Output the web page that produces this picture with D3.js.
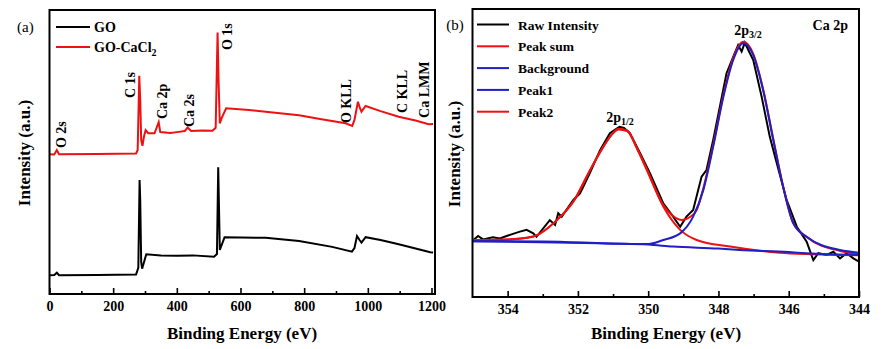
<!DOCTYPE html>
<html>
<head>
<meta charset="utf-8">
<script src="https://cdn.jsdelivr.net/npm/d3@7"></script>
<style>
  body { margin: 0; background: #fff; }
  text { font-family: "Liberation Serif", "Times New Roman", serif; }
</style>
</head>
<body>
<script>
// survey spectra, [binding energy (eV), intensity (a.u.)]
var surveyGO = [
  [0,6.6],[15,6.7],[23,7.5],[30,6.6],[150,6.7],[272,6.9],[279,9.2],[283,40.1],[285,33.1],
  [288,11.3],[291,8.9],[297,11.3],[304,14.0],[350,13.6],[400,13.5],[450,13.6],[517,13.1],
  [526,14.1],[530,44.6],[532,33.1],[535,15.5],[541,17.3],[550,20.0],[600,19.9],[679,19.8],
  [784,18.7],[888,16.6],[950,14.9],[958,16.2],[966,20.4],[974,19.0],[980,18.1],[993,20.0],
  [1040,19.0],[1097,17.5],[1150,16.0],[1196,14.7],[1205,14.6]
];
var surveyCaCl2 = [
  [0,49.2],[15,49.1],[23,50.7],[30,49.2],[150,49.3],[272,49.5],[277,50.7],[282,76.8],[285,68.3],
  [288,54.2],[292,52.2],[297,55.6],[302,57.7],[310,56.6],[330,56.6],[343,60.5],[348,57.0],
  [380,56.7],[400,57.0],[425,57.4],[434,58.6],[445,57.4],[480,57.6],[512,57.5],[522,58.5],
  [528,92.1],[531,75.4],[535,60.1],[541,62.0],[555,65.4],[627,64.8],[679,64.2],[784,62.9],
  [850,61.6],[930,60.1],[951,59.2],[958,61.3],[969,67.7],[975,65.5],[980,64.2],[993,66.2],
  [1040,64.4],[1097,62.4],[1150,61.1],[1191,59.8],[1205,59.9]
];
var surveyTicks = [0,200,400,600,800,1000,1200];
var surveyMinor = [100,300,500,700,900,1100];
// peak labels: name, energy, intensity where the label starts
var surveyLabels = [
  ["O 2s",52,51.4],["C 1s",270,69.0],["Ca 2p",369,61.6],["Ca 2s",455,58.8],
  ["O 1s",572,85.9],["O KLL",947,60.2],["C KLL",1123,63.7],["Ca LMM",1191,62.0]
];

// Ca 2p high resolution, [binding energy (eV), intensity (a.u.)]
var ca2pRaw = [
  [355.00,19.5],[354.84,21.2],[354.70,20.0],[354.42,20.7],[354.22,20.3],[354.03,21.2],[353.65,22.7],
  [353.46,23.3],[353.27,22.1],[353.18,20.9],[352.80,26.7],[352.65,25.0],[352.56,29.1],[352.46,27.9],
  [352.13,33.7],[351.94,36.0],[351.66,43.0],[351.37,51.0],[351.09,56.9],[350.82,59.1],[350.69,58.7],
  [350.52,56.9],[350.23,49.9],[349.95,43.0],[349.57,32.5],[349.29,27.9],[349.09,24.4],[348.91,27.9],
  [348.72,30.2],[348.48,41.8],[348.34,44.1],[348.15,54.5],[347.96,66.1],[347.77,77.7],[347.58,83.4],
  [347.44,87.5],[347.34,85.2],[347.25,88.3],[347.01,82.3],[346.77,69.5],[346.54,55.7],[346.34,46.4],
  [346.06,33.7],[345.77,24.4],[345.49,19.2],[345.30,12.8],[345.16,15.2],[344.92,14.6],[344.73,15.7],
  [344.54,13.4],[344.35,15.2],[344.16,13.4],[344.00,12.3]
];
var ca2pSum = [
  [355.0,19.8],[354.0,20.0],[353.3,20.9],[352.6,26.7],[352.1,33.7],[351.7,43.0],[351.3,51.7],
  [351.0,56.9],[350.85,58.4],[350.6,57.8],[350.3,51.2],[350.04,44.5],[349.57,31.9],[349.29,28.1],
  [349.04,26.7],[348.81,27.8],[348.62,30.2],[348.43,37.8],[348.15,52.8],[347.86,70.1],[347.58,83.0],
  [347.29,88.6],[347.01,84.4],[346.73,72.2],[346.44,54.9],[346.16,38.5],[345.87,25.7],[345.49,20.8],
  [344.54,16.0],[344.0,14.9]
];
var ca2pBackground = [
  [355.0,19.4],[353.0,19.3],[351.2,18.6],[350.0,18.2],[349.3,17.5],[348.0,16.8],[347.4,16.3],
  [346.0,15.6],[345.5,15.2],[344.0,14.6]
];
var ca2pPeak1 = [
  [355.0,19.4],[351.0,18.6],[350.0,18.4],[349.57,19.8],[349.09,22.1],[348.72,27.9],[348.43,37.2],
  [348.15,52.2],[347.86,69.5],[347.58,82.3],[347.29,88.1],[347.01,84.0],[346.73,71.9],[346.44,54.5],
  [346.16,38.3],[345.87,25.6],[345.49,20.9],[344.54,16.3],[344.0,15.4]
];
var ca2pPeak2 = [
  [355.0,19.8],[354.0,20.0],[353.3,20.9],[352.6,26.7],[352.1,33.7],[351.7,43.0],[351.3,51.7],
  [351.0,56.9],[350.85,58.2],[350.6,57.6],[350.3,51.0],[350.04,44.1],[349.57,31.4],[349.09,23.3],
  [348.62,19.8],[347.67,17.5],[346.25,15.4],[345.5,14.9],[344.0,14.5]
];
var ca2pTicks = [354,352,350,348,346,344];
var ca2pMinor = [353,351,349,347,345];

var red="#ee1111", blue="#1f1fc4";

var svg=d3.select("body").append("svg")
    .attr("width",891)
    .attr("height",349);

// ---------- panel (a) ----------
var ax=d3.scaleLinear().domain([0,1211]).range([49.5,435]);
var ay=d3.scaleLinear().domain([0,100]).range([294,10]);

var gA=svg.append("g");

var lineA=d3.line().x(d=>ax(d[0])).y(d=>ay(d[1]));

gA.append("path").datum(surveyGO)
    .attr("d",lineA).attr("fill","none").attr("stroke","#000").attr("stroke-width",2);
gA.append("path").datum(surveyCaCl2)
    .attr("d",lineA).attr("fill","none").attr("stroke",red).attr("stroke-width",2);

drawAxis(gA, ax, 294, surveyTicks, surveyMinor);

gA.append("rect")
    .attr("x",ax.range()[0]).attr("y",ay.range()[1])
    .attr("width",ax.range()[1]-ax.range()[0])
    .attr("height",ay.range()[0]-ay.range()[1])
    .attr("fill","none").attr("stroke","#000").attr("stroke-width",2);

gA.selectAll(".plabel")
  .data(surveyLabels)
  .enter()
  .append("text")
    .attr("transform",d=>"translate("+ax(d[1])+","+ay(d[2])+") rotate(-90)")
    .style("font-size","14px")
    .style("font-weight","bold")
    .text(d=>d[0]);

// legend (a)
var legA=[["GO","#000"],["GO-CaCl",red]];
legA.forEach(function(l,i){
  var y=27+i*20;
  gA.append("line").attr("x1",56).attr("x2",90).attr("y1",y).attr("y2",y)
      .attr("stroke",l[1]).attr("stroke-width",2);
  var t=gA.append("text").attr("x",94).attr("y",y+5)
      .style("font-size","14px").style("font-weight","bold").text(l[0]);
  if(i==1) t.append("tspan").attr("dy",4).style("font-size","10px").text("2");
});

gA.append("text").attr("x",17).attr("y",32).style("font-size","15px").text("(a)");

axisTitles(gA, 242, 30, 153);

// ---------- panel (b) ----------
var bx=d3.scaleLinear().domain([355,344]).range([472.5,859]);
var by=d3.scaleLinear().domain([0,100]).range([297,9]);

var gB=svg.append("g");
var lineB=d3.line().x(d=>bx(d[0])).y(d=>by(d[1])).curve(d3.curveMonotoneX);

gB.append("path").datum(ca2pRaw)
    .attr("d",d3.line().x(d=>bx(d[0])).y(d=>by(d[1])))
    .attr("fill","none").attr("stroke","#000").attr("stroke-width",2);

// fits: red ones first, blue on top
[[ca2pSum,red],[ca2pPeak2,red],[ca2pBackground,blue],[ca2pPeak1,blue]].forEach(function(s){
  gB.append("path").datum(s[0])
      .attr("d",lineB).attr("fill","none").attr("stroke",s[1]).attr("stroke-width",2);
});

drawAxis(gB, bx, 297, ca2pTicks, ca2pMinor);

gB.append("rect")
    .attr("x",bx.range()[0]).attr("y",by.range()[1])
    .attr("width",bx.range()[1]-bx.range()[0])
    .attr("height",by.range()[0]-by.range()[1])
    .attr("fill","none").attr("stroke","#000").attr("stroke-width",2);

// legend (b)
var legB=[["Raw Intensity","#000"],["Peak sum",red],["Background",blue],["Peak1",blue],["Peak2",red]];
legB.forEach(function(l,i){
  var y=24.5+i*21.8;
  gB.append("line").attr("x1",477).attr("x2",509).attr("y1",y).attr("y2",y)
      .attr("stroke",l[1]).attr("stroke-width",2);
  gB.append("text").attr("x",518).attr("y",y+5)
      .style("font-size","13.5px").style("font-weight","bold").text(l[0]);
});

gB.append("text").attr("x",848).attr("y",30).attr("text-anchor","end")
    .style("font-size","14px").style("font-weight","bold").text("Ca 2p");

// peak labels with subscripts
[["1/2",350.80,60.8],["3/2",347.16,91.0]].forEach(function(p){
  var t=gB.append("text").attr("x",bx(p[1])).attr("y",by(p[2])).attr("text-anchor","middle")
      .style("font-size","14px").style("font-weight","bold").text("2p");
  t.append("tspan").attr("dy",3).style("font-size","10px").text(p[0]);
});

gB.append("text").attr("x",455).attr("y",30).attr("text-anchor","middle").style("font-size","15px").text("(b)");

axisTitles(gB, 666, 460, 154);

// bottom axis with inward ticks, major + minor
function drawAxis(g, x, y0, major, minor){
  var big=g.append("g").attr("transform","translate(0,"+y0+")")
      .call(d3.axisBottom(x).tickValues(major).tickFormat(d3.format("d"))
              .tickSizeInner(-6).tickSizeOuter(0).tickPadding(7.5))
      .attr("font-family","'Liberation Serif', serif");
  big.select(".domain").remove();
  big.selectAll("line").attr("stroke-width",1.6);
  big.selectAll("text").style("font-size","14px").style("font-weight","bold");
  var small=g.append("g").attr("transform","translate(0,"+y0+")")
      .call(d3.axisBottom(x).tickValues(minor).tickSizeInner(-3).tickSizeOuter(0).tickFormat(""));
  small.select(".domain").remove();
  small.selectAll("line").attr("stroke-width",1.6);
}

function axisTitles(g, cx, ty, tcy){
  g.append("text").attr("x",cx).attr("y",339).attr("text-anchor","middle")
      .style("font-size","17px").style("font-weight","bold").text("Binding Energy (eV)");
  g.append("text").attr("transform","translate("+ty+","+tcy+") rotate(-90)")
      .attr("text-anchor","middle")
      .style("font-size","17px").style("font-weight","bold").text("Intensity (a.u.)");
}
</script>
</body>
</html>
